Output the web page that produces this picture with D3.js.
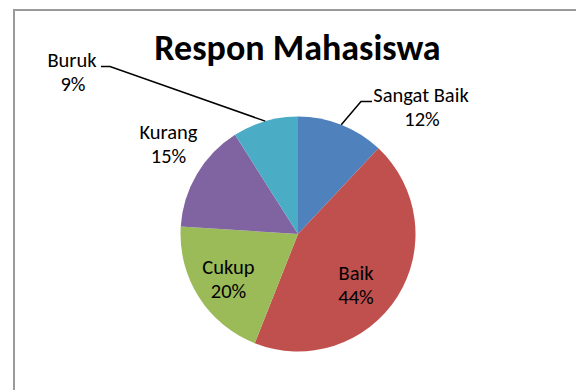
<!DOCTYPE html>
<html>
<head>
<meta charset="utf-8">
<script src="https://cdn.jsdelivr.net/npm/d3@7/dist/d3.min.js"></script>
<style>
  html, body { margin: 0; padding: 0; background: #fff; }
  svg { display: block; }
  text { font-family: Carlito, Lato, "Open Sans", sans-serif; fill: #000; }
</style>
</head>
<body>
<svg id="chart" width="576" height="390"></svg>
<script>
// Survey responses (percent)
const categories = ["Sangat Baik", "Baik", "Cukup", "Kurang", "Buruk"];
const values = [12, 44, 20, 15, 9];
const colors = ["#4F81BD", "#C0504D", "#9BBB59", "#8064A2", "#4BACC6"];
const title = "Respon Mahasiswa";

const W = 576, H = 390;
const cx = 298, cy = 234, R = 117.5;

const svg = d3.select("#chart");

// chart frame (extends past the right and bottom edges)
svg.append("rect")
  .attr("x", 14).attr("y", 10)
  .attr("width", 620).attr("height", 420)
  .attr("fill", "#fff")
  .attr("stroke", "#9a9a9a")
  .attr("stroke-width", 2);

svg.append("text")
  .attr("x", 297.5).attr("y", 60)
  .attr("text-anchor", "middle")
  .attr("font-size", 36)
  .attr("font-weight", "bold")
  .text(title);

const data = categories.map((c, i) => ({ name: c, value: values[i], color: colors[i] }));

const pie = d3.pie().value(d => d.value).sort(null);
const arcs = pie(data);
const arc = d3.arc().innerRadius(0).outerRadius(R);

const g = svg.append("g").attr("transform", `translate(${cx},${cy})`);

g.selectAll("path.slice")
  .data(arcs)
  .join("path")
  .attr("class", "slice")
  .attr("d", arc)
  .attr("fill", d => d.data.color);

// label placement: inside for big slices, outside with leader for small ones
const labelPos = {
  "Sangat Baik": { x: 421, y: 101.5, out: true, elbow: [361, 101.5], end: [372, 101.5] },
  "Baik":        { x: 356, y: 280 },
  "Cukup":       { x: 228.5, y: 273.5 },
  "Kurang":      { x: 168.5, y: 138.5 },
  "Buruk":       { x: 72, y: 67, out: true, elbow: [110, 66.5], end: [101, 66.5] }
};

const edgeArc = d3.arc().innerRadius(R).outerRadius(R);

arcs.forEach(a => {
  const p = labelPos[a.data.name];
  if (p.out) {
    const [ex, ey] = edgeArc.centroid(a);
    svg.append("path")
      .attr("d", d3.line()([[cx + ex, cy + ey], p.elbow, p.end]))
      .attr("fill", "none")
      .attr("stroke", "#000")
      .attr("stroke-width", 1.5);
  }
  const t = svg.append("text")
    .attr("text-anchor", "middle")
    .attr("font-size", 20.5);
  t.append("tspan").attr("x", p.x).attr("y", p.y).text(a.data.name);
  t.append("tspan").attr("x", p.x + (p.out ? 1 : 0)).attr("y", p.y + 24).text(a.data.value + "%");
});
</script>
</body>
</html>
